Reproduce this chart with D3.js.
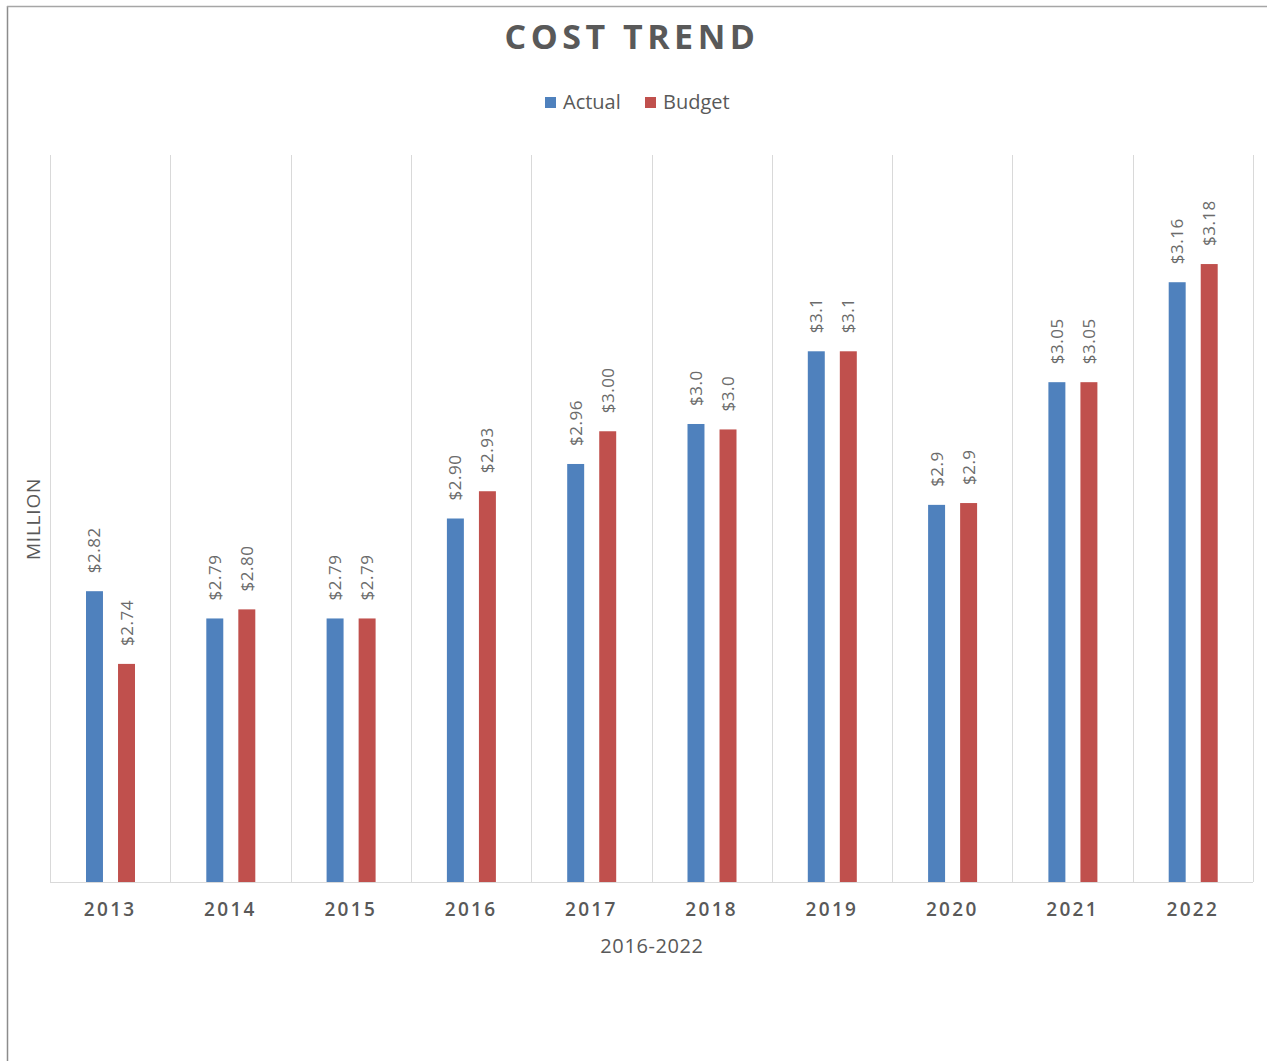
<!DOCTYPE html>
<html>
<head>
<meta charset="utf-8">
<script src="https://cdn.jsdelivr.net/npm/d3@7"></script>
<style>
  body { margin: 0; background: #fff; }
  svg { font-family: "Open Sans", "Noto Sans", sans-serif; }
</style>
</head>
<body>
<svg id="chart" width="1267" height="1061"></svg>
<script>
// Chart data
const years = ['2013', '2014', '2015', '2016', '2017', '2018', '2019', '2020', '2021', '2022'];
const actual = [2.82, 2.79, 2.79, 2.90, 2.96, 3.004, 3.084, 2.915, 3.05, 3.16];
const budget = [2.74, 2.80, 2.79, 2.93, 2.996, 2.998, 3.084, 2.917, 3.05, 3.18];
const actualLabels = ['$2.82', '$2.79', '$2.79', '$2.90', '$2.96', '$3.0', '$3.1', '$2.9', '$3.05', '$3.16'];
const budgetLabels = ['$2.74', '$2.80', '$2.79', '$2.93', '$3.00', '$3.0', '$3.1', '$2.9', '$3.05', '$3.18'];
const seriesNames = ['Actual', 'Budget'];
const seriesColors = ['#4f81bd', '#c0504d'];

const svg = d3.select('#chart');
const margin = { left: 50, right: 14, top: 155, bottom: 179 };
const width = 1267, height = 1061;

// Frame lines (left and top)
svg.append('line')
    .attr('x1', 7.5).attr('x2', 7.5).attr('y1', 6).attr('y2', height)
    .attr('stroke', '#8c8c8c').attr('stroke-width', 1.5);
svg.append('line')
    .attr('x1', 7).attr('x2', width).attr('y1', 6.5).attr('y2', 6.5)
    .attr('stroke', '#a6a6a6').attr('stroke-width', 1.5);

const x = d3.scaleBand()
    .domain(years)
    .range([margin.left, width - margin.right]);

// two bars inside each category
const xInner = d3.scaleBand()
    .domain(seriesNames)
    .range([36, 85])
    .paddingInner(0.47);

const y = d3.scaleLinear()
    .domain([2.5, 3.3])
    .range([height - margin.bottom, margin.top]);

const plot = svg.append('g');

// Vertical gridlines at category boundaries
const bounds = years.map(d => x(d)).concat([x(years[years.length - 1]) + x.bandwidth()]);
plot.selectAll('.grid')
    .data(bounds)
    .enter()
    .append('line')
    .attr('class', 'grid')
    .attr('x1', d => Math.round(d) + 0.5)
    .attr('x2', d => Math.round(d) + 0.5)
    .attr('y1', y(3.3))
    .attr('y2', y(2.5))
    .attr('stroke', '#d9d9d9')
    .attr('stroke-width', 1);

// Bars
const rows = years.map((yr, i) => ({
    year: yr,
    values: [
        { name: 'Actual', value: actual[i], label: actualLabels[i], color: seriesColors[0] },
        { name: 'Budget', value: budget[i], label: budgetLabels[i], color: seriesColors[1] }
    ]
}));

const groups = plot.selectAll('.year')
    .data(rows)
    .enter()
    .append('g')
    .attr('class', 'year')
    .attr('transform', d => `translate(${x(d.year)},0)`);

groups.selectAll('rect')
    .data(d => d.values)
    .enter()
    .append('rect')
    .attr('x', d => xInner(d.name))
    .attr('y', d => y(d.value))
    .attr('width', xInner.bandwidth())
    .attr('height', d => y(2.5) - y(d.value))
    .attr('fill', d => d.color);

// Rotated value labels
groups.selectAll('.val')
    .data(d => d.values)
    .enter()
    .append('text')
    .attr('class', 'val')
    .attr('transform', d => {
        const cx = xInner(d.name) + xInner.bandwidth() / 2 + 6;
        const cy = y(d.value) - 18;
        return `translate(${cx},${cy}) rotate(-90)`;
    })
    .attr('text-anchor', 'start')
    .attr('fill', '#6b6b6b')
    .style('font-size', '17px')
    .style('letter-spacing', '0.5px')
    .text(d => d.label);

// Baseline
plot.append('line')
    .attr('x1', margin.left).attr('x2', width - margin.right)
    .attr('y1', y(2.5) + 0.5).attr('y2', y(2.5) + 0.5)
    .attr('stroke', '#d9d9d9');

// X axis labels
const xAxis = svg.append('g')
    .attr('transform', `translate(0,${y(2.5)})`)
    .call(d3.axisBottom(x).tickSize(0).tickPadding(21));
xAxis.select('.domain').remove();
xAxis.selectAll('text')
    .attr('fill', '#595959')
    .style('font-size', '19px')
    .style('font-weight', '600')
    .style('letter-spacing', '2.3px')
    .style('font-family', '"Open Sans", sans-serif');

// Axis titles
svg.append('text')
    .attr('x', 652).attr('y', 953)
    .attr('text-anchor', 'middle')
    .attr('fill', '#595959')
    .style('font-size', '20px')
    .style('letter-spacing', '0.6px')
    .text('2016-2022');

svg.append('text')
    .attr('transform', 'translate(40,519) rotate(-90)')
    .attr('text-anchor', 'middle')
    .attr('fill', '#595959')
    .style('font-size', '19px')
    .style('letter-spacing', '0.8px')
    .text('MILLION');

// Title
svg.append('text')
    .attr('x', 632).attr('y', 49)
    .attr('text-anchor', 'middle')
    .attr('fill', '#595959')
    .style('font-size', '34px')
    .style('font-weight', 'bold')
    .style('letter-spacing', '4.5px')
    .text('COST TREND');

// Legend
const legend = svg.append('g').attr('transform', 'translate(545,102)');
const legendX = [0, 100];
seriesNames.forEach((name, i) => {
    const g = legend.append('g').attr('transform', `translate(${legendX[i]},0)`);
    g.append('rect')
        .attr('x', 0).attr('y', -5)
        .attr('width', 11).attr('height', 11)
        .attr('fill', seriesColors[i]);
    g.append('text')
        .attr('x', 18).attr('y', 7)
        .attr('fill', '#595959')
        .style('font-size', '20px')
        .text(name);
});
</script>
</body>
</html>
